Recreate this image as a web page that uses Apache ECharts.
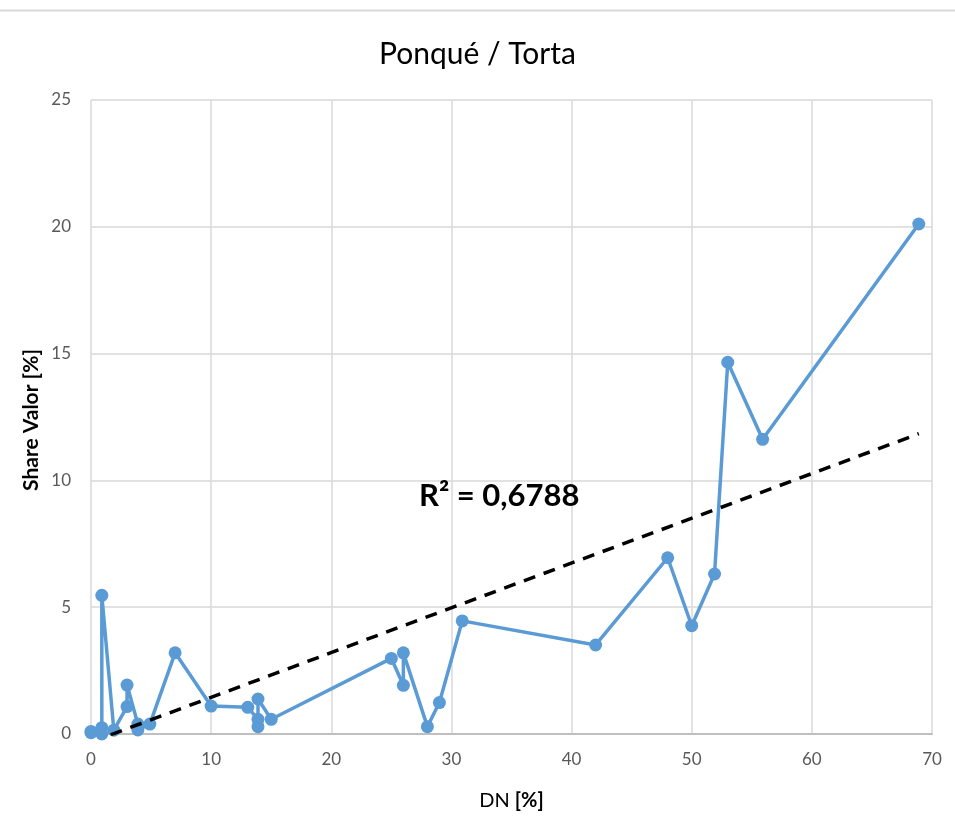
<!DOCTYPE html>
<html>
<head>
<meta charset="utf-8">
<script src="https://cdn.jsdelivr.net/npm/echarts@6/dist/echarts.min.js"></script>
<style>
  html, body { margin: 0; padding: 0; background: #fff; }
  #chart { width: 955px; height: 834px; }
</style>
</head>
<body>
<div id="chart"></div>
<script>
// DN (%) vs. Share Valor (%) for each observation, in plotting order
const dnValues = [0, 0, 0.9, 0.9, 0.9, 1.9, 3.0, 3.0, 3.9, 3.9, 4.9, 7.0, 10, 13.05, 13.9, 13.9, 13.9, 15,
                  25, 26, 26, 28, 29, 30.9, 42, 48, 50, 51.9, 53, 55.9, 68.9];
const shareValues = [0.05, 0.1, 0.0, 0.25, 5.47, 0.15, 1.08, 1.93, 0.39, 0.16, 0.39, 3.2, 1.1, 1.05, 0.58, 0.29, 1.38, 0.58,
                     2.98, 1.92, 3.2, 0.29, 1.24, 4.46, 3.51, 6.95, 4.27, 6.31, 14.66, 11.62, 20.11];
const xTicks = [0, 10, 20, 30, 40, 50, 60, 70];
const yTicks = [0, 5, 10, 15, 20, 25];

// Linear trendline coefficients and its coefficient of determination
const trendSlope = 0.1765;
const trendIntercept = -0.32;
const rSquaredText = 'R² = 0,6788';

const points = dnValues.map((x, i) => [x, shareValues[i]]);
const xMin = Math.min(...dnValues), xMax = Math.max(...dnValues);
const trend = [xMin, xMax].map(x => [x, trendIntercept + trendSlope * x]);

const font = 'Lato, "Open Sans", sans-serif';
const grid = { left: 91, right: 23, top: 100, bottom: 100 };
const W = 955, H = 834;
const plotCx = grid.left + (W - grid.left - grid.right) / 2;
const plotCy = grid.top + (H - grid.top - grid.bottom) / 2;

const chart = echarts.init(document.getElementById('chart'));
chart.setOption({
  animation: false,
  title: {
    text: 'Ponqué / Torta',
    left: 'center',
    top: 34,
    textStyle: { fontFamily: font, fontSize: 30, fontWeight: 'normal', color: '#000' }
  },
  grid: grid,
  xAxis: {
    type: 'value',
    min: xTicks[0], max: xTicks[xTicks.length - 1], interval: 10,
    axisLine: { show: true, lineStyle: { color: '#bfbfbf', width: 2 } },
    axisTick: { show: false },
    axisLabel: { fontFamily: font, fontSize: 17, color: '#595959', margin: 17 },
    splitLine: { show: true, lineStyle: { color: '#d9d9d9', width: 1.5 } }
  },
  yAxis: {
    type: 'value',
    min: yTicks[0], max: yTicks[yTicks.length - 1], interval: 5,
    axisLine: { show: false },
    axisTick: { show: false },
    axisLabel: { fontFamily: font, fontSize: 17, color: '#595959', margin: 20 },
    splitLine: { show: true, lineStyle: { color: '#d9d9d9', width: 1.5 } }
  },
  series: [
    {
      type: 'line',
      data: points,
      symbol: 'circle',
      symbolSize: 13,
      lineStyle: { color: '#5b9bd5', width: 3.5 },
      itemStyle: { color: '#5b9bd5' },
      z: 3
    },
    {
      type: 'line',
      data: trend,
      symbol: 'none',
      clip: true,
      lineStyle: { color: '#000', width: 3.5, type: [12, 9] },
      z: 4
    }
  ],
  graphic: [
    {
      type: 'line',
      shape: { x1: 0, y1: 10.5, x2: W, y2: 10.5 },
      style: { stroke: '#d9d9d9', lineWidth: 2 }
    },
    {
      type: 'text',
      x: plotCx,
      y: 801,
      style: {
        text: '{a|DN }{b|[%]}',
        align: 'center',
        verticalAlign: 'middle',
        rich: {
          a: { fontFamily: font, fontSize: 20, color: '#000' },
          b: { fontFamily: font, fontSize: 20, fontWeight: 'bold', color: '#000' }
        }
      }
    },
    {
      type: 'text',
      x: 31,
      y: plotCy + 3,
      rotation: Math.PI / 2,
      style: {
        text: 'Share Valor [%]',
        align: 'center',
        verticalAlign: 'middle',
        fontFamily: font, fontSize: 21, fontWeight: 'bold', fill: '#000'
      }
    },
    {
      type: 'text',
      left: 419,
      top: 480,
      style: { text: rSquaredText, fontFamily: font, fontSize: 31, fontWeight: 'bold', fill: '#000' },
      z: 10
    }
  ]
});
</script>
</body>
</html>
